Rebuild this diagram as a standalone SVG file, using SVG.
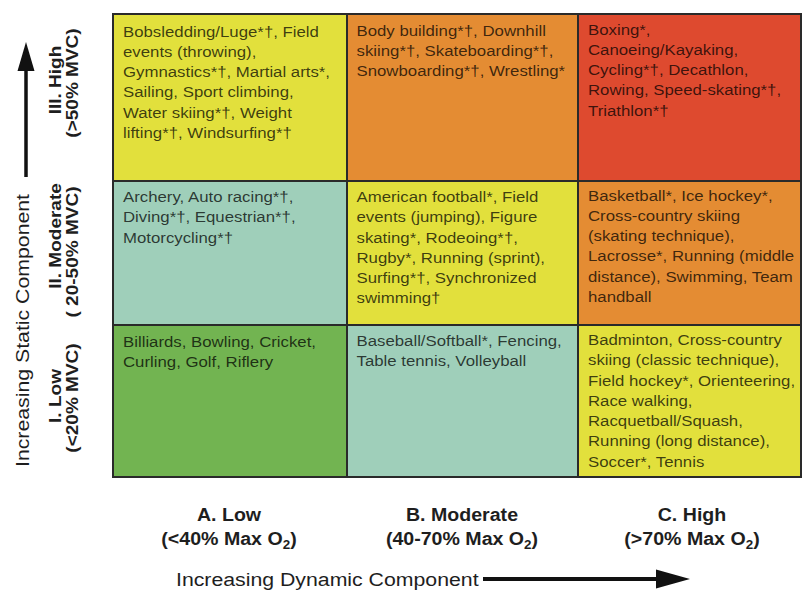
<svg xmlns="http://www.w3.org/2000/svg" width="802" height="591" viewBox="0 0 802 591">
  <style>
    .cell-text{font-family:"Liberation Sans",Arial,sans-serif;font-size:15px;fill:#000;fill-opacity:0.74}
    .yellow{fill:#e2e03c}
    .orange{fill:#e48c33}
    .red{fill:#de4a2f}
    .teal{fill:#9fcfba}
    .green{fill:#72b451}
    .rule{stroke:#2a2a2a;stroke-width:2;fill:none}
    .lbl{font-family:"Liberation Sans",Arial,sans-serif;font-weight:bold;font-size:17.5px;fill:#1e1e1e;text-anchor:middle}
    .row{font-size:17px}
    .axis{font-family:"Liberation Sans",Arial,sans-serif;font-size:19px;fill:#1e1e1e}
    .arrow{fill:#111}
  </style>

  <rect width="802" height="591" fill="#ffffff"/>

  <!-- High static row -->
  <g id="cell-IIIA">
    <rect class="yellow" x="113" y="14" width="234" height="167"/>
    <g transform="translate(123,36.5) scale(1.12,1)">
      <text class="cell-text">
        <tspan x="0" y="0">Bobsledding/Luge*†, Field</tspan>
        <tspan x="0" y="20.3">events (throwing),</tspan>
        <tspan x="0" y="40.6">Gymnastics*†, Martial arts*,</tspan>
        <tspan x="0" y="60.9">Sailing, Sport climbing,</tspan>
        <tspan x="0" y="81.2">Water skiing*†, Weight</tspan>
        <tspan x="0" y="101.5">lifting*†, Windsurfing*†</tspan>
      </text>
    </g>
  </g>
  <g id="cell-IIIB">
    <rect class="orange" x="347" y="14" width="231" height="167"/>
    <g transform="translate(356.5,35.5) scale(1.12,1)">
      <text class="cell-text">
        <tspan x="0" y="0">Body building*†, Downhill</tspan>
        <tspan x="0" y="20.3">skiing*†, Skateboarding*†,</tspan>
        <tspan x="0" y="40.6">Snowboarding*†, Wrestling*</tspan>
      </text>
    </g>
  </g>
  <g id="cell-IIIC">
    <rect class="red" x="578" y="14" width="224" height="167"/>
    <g transform="translate(588,34.5) scale(1.12,1)">
      <text class="cell-text">
        <tspan x="0" y="0">Boxing*,</tspan>
        <tspan x="0" y="20.3">Canoeing/Kayaking,</tspan>
        <tspan x="0" y="40.6">Cycling*†, Decathlon,</tspan>
        <tspan x="0" y="60.9">Rowing, Speed-skating*†,</tspan>
        <tspan x="0" y="81.2">Triathlon*†</tspan>
      </text>
    </g>
  </g>

  <!-- Moderate static row -->
  <g id="cell-IIA">
    <rect class="teal" x="113" y="181" width="234" height="144"/>
    <g transform="translate(123,202) scale(1.12,1)">
      <text class="cell-text">
        <tspan x="0" y="0">Archery, Auto racing*†,</tspan>
        <tspan x="0" y="20.3">Diving*†, Equestrian*†,</tspan>
        <tspan x="0" y="40.6">Motorcycling*†</tspan>
      </text>
    </g>
  </g>
  <g id="cell-IIB">
    <rect class="yellow" x="347" y="181" width="231" height="144"/>
    <g transform="translate(356.5,202) scale(1.12,1)">
      <text class="cell-text">
        <tspan x="0" y="0">American football*, Field</tspan>
        <tspan x="0" y="20.3">events (jumping), Figure</tspan>
        <tspan x="0" y="40.6">skating*, Rodeoing*†,</tspan>
        <tspan x="0" y="60.9">Rugby*, Running (sprint),</tspan>
        <tspan x="0" y="81.2">Surfing*†, Synchronized</tspan>
        <tspan x="0" y="101.5">swimming†</tspan>
      </text>
    </g>
  </g>
  <g id="cell-IIC">
    <rect class="orange" x="578" y="181" width="224" height="144"/>
    <g transform="translate(588,200.5) scale(1.12,1)">
      <text class="cell-text">
        <tspan x="0" y="0">Basketball*, Ice hockey*,</tspan>
        <tspan x="0" y="20.3">Cross-country skiing</tspan>
        <tspan x="0" y="40.6">(skating technique),</tspan>
        <tspan x="0" y="60.9">Lacrosse*, Running (middle</tspan>
        <tspan x="0" y="81.2">distance), Swimming, Team</tspan>
        <tspan x="0" y="101.5">handball</tspan>
      </text>
    </g>
  </g>

  <!-- Low static row -->
  <g id="cell-IA">
    <rect class="green" x="113" y="325" width="234" height="152"/>
    <g transform="translate(123,346.5) scale(1.12,1)">
      <text class="cell-text">
        <tspan x="0" y="0">Billiards, Bowling, Cricket,</tspan>
        <tspan x="0" y="20.3">Curling, Golf, Riflery</tspan>
      </text>
    </g>
  </g>
  <g id="cell-IB">
    <rect class="teal" x="347" y="325" width="231" height="152"/>
    <g transform="translate(356.5,346) scale(1.12,1)">
      <text class="cell-text">
        <tspan x="0" y="0">Baseball/Softball*, Fencing,</tspan>
        <tspan x="0" y="20.3">Table tennis, Volleyball</tspan>
      </text>
    </g>
  </g>
  <g id="cell-IC">
    <rect class="yellow" x="578" y="325" width="224" height="152"/>
    <g transform="translate(588,345) scale(1.12,1)">
      <text class="cell-text">
        <tspan x="0" y="0">Badminton, Cross-country</tspan>
        <tspan x="0" y="20.3">skiing (classic technique),</tspan>
        <tspan x="0" y="40.6">Field hockey*, Orienteering,</tspan>
        <tspan x="0" y="60.9">Race walking,</tspan>
        <tspan x="0" y="81.2">Racquetball/Squash,</tspan>
        <tspan x="0" y="101.5">Running (long distance),</tspan>
        <tspan x="0" y="121.8">Soccer*, Tennis</tspan>
      </text>
    </g>
  </g>

  <!-- grid rules -->
  <g id="grid">
    <rect class="rule" x="113" y="14" width="688" height="463"/>
    <line class="rule" x1="347" y1="14" x2="347" y2="477"/>
    <line class="rule" x1="578" y1="14" x2="578" y2="477"/>
    <line class="rule" x1="113" y1="181" x2="801" y2="181"/>
    <line class="rule" x1="113" y1="325" x2="801" y2="325"/>
  </g>

  <!-- static component row labels -->
  <g id="row-labels">
    <g transform="translate(61,80) rotate(-90) scale(1.12,1)"><text class="lbl row" x="0" y="0">III. High</text></g>
    <g transform="translate(78,83) rotate(-90) scale(1.12,1)"><text class="lbl row" x="0" y="0">(&gt;50% MVC)</text></g>
    <g transform="translate(61,236) rotate(-90) scale(1.12,1)"><text class="lbl row" x="0" y="0">II. Moderate</text></g>
    <g transform="translate(78,252) rotate(-90) scale(1.12,1)"><text class="lbl row" x="0" y="0">( 20-50% MVC)</text></g>
    <g transform="translate(61,396) rotate(-90) scale(1.12,1)"><text class="lbl row" x="0" y="0">I. Low</text></g>
    <g transform="translate(78,398) rotate(-90) scale(1.12,1)"><text class="lbl row" x="0" y="0">(&lt;20% MVC)</text></g>
  </g>

  <!-- dynamic component column labels -->
  <g id="col-labels">
    <g transform="translate(229,521) scale(1.12,1)">
      <text class="lbl" x="0" y="0">A. Low</text>
      <text class="lbl" x="0" y="24">(&lt;40% Max O<tspan font-size="12" dy="4">2</tspan><tspan dy="-4">)</tspan></text>
    </g>
    <g transform="translate(462,521) scale(1.12,1)">
      <text class="lbl" x="0" y="0">B. Moderate</text>
      <text class="lbl" x="0" y="24">(40-70% Max O<tspan font-size="12" dy="4">2</tspan><tspan dy="-4">)</tspan></text>
    </g>
    <g transform="translate(692,521) scale(1.12,1)">
      <text class="lbl" x="0" y="0">C. High</text>
      <text class="lbl" x="0" y="24">(&gt;70% Max O<tspan font-size="12" dy="4">2</tspan><tspan dy="-4">)</tspan></text>
    </g>
  </g>

  <!-- axis titles -->
  <g id="axes">
    <g transform="translate(29,467) rotate(-90) scale(1.12,1)">
      <text class="axis" x="0" y="0" font-size="20">Increasing Static Component</text>
    </g>
    <g transform="translate(176,586) scale(1.12,1)">
      <text class="axis" x="0" y="0">Increasing Dynamic Component</text>
    </g>
  </g>

  <!-- axis arrows -->
  <g id="connectors">
    <line x1="26" y1="177" x2="26" y2="66" stroke="#111" stroke-width="3.5"/>
    <polygon class="arrow" points="26,42 17.5,71 34.5,71"/>
    <line x1="483" y1="579" x2="662" y2="579" stroke="#111" stroke-width="4"/>
    <polygon class="arrow" points="690,579 656,569.5 656,588.5"/>
  </g>
</svg>
